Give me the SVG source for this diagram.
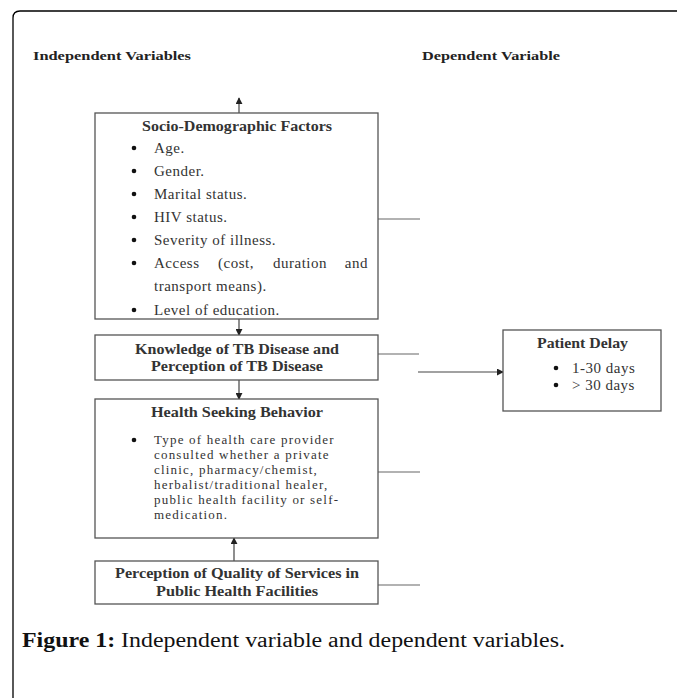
<svg xmlns="http://www.w3.org/2000/svg" width="677" height="698" viewBox="0 0 677 698">
<defs>
<marker id="ah" viewBox="0 0 8 8" refX="7" refY="4" markerWidth="7" markerHeight="7" markerUnits="userSpaceOnUse" orient="auto">
<path d="M0,0 L8,4 L0,8 z" fill="#222"/>
</marker>
<style>
.box{fill:#fff;stroke:#555;stroke-width:1.3}
.hd{font-family:"Liberation Serif",serif;font-weight:bold;font-size:13px;fill:#222}
.t{font-family:"Liberation Serif",serif;font-size:15px;letter-spacing:0.5px;fill:#333}
.th{font-family:"Liberation Serif",serif;font-size:13px;letter-spacing:1.2px;fill:#333}
.tb{font-family:"Liberation Serif",serif;font-weight:bold;font-size:15px;fill:#333}
.cap{font-family:"Liberation Serif",serif;font-size:20px;fill:#111}
.ln{stroke:#666;stroke-width:1.2;fill:none}
.ar{stroke:#444;stroke-width:1.2;fill:none;marker-end:url(#ah)}
.bul{fill:#111}
</style>
</defs>
<rect width="677" height="698" fill="#fff"/>
<path d="M13,710 L13,18 Q13,11 20,11 L690,11" fill="none" stroke="#000" stroke-width="1.3"/>
<text class="hd" x="33" y="60" textLength="158" lengthAdjust="spacingAndGlyphs">Independent Variables</text>
<text class="hd" x="422" y="60" textLength="138" lengthAdjust="spacingAndGlyphs">Dependent Variable</text>

<g id="connectors">
<line class="ar" x1="239" y1="113" x2="239" y2="98"/>
<line class="ar" x1="239" y1="319" x2="239" y2="335"/>
<line class="ar" x1="239" y1="380" x2="239" y2="399"/>
<line class="ar" x1="234" y1="561" x2="234" y2="538"/>
<line class="ln" x1="378" y1="219" x2="420" y2="219"/>
<line class="ln" x1="378" y1="354" x2="419" y2="354"/>
<line class="ln" x1="378" y1="472" x2="420" y2="472"/>
<line class="ln" x1="378" y1="585" x2="420" y2="585"/>
<line class="ar" x1="418" y1="372" x2="503" y2="372"/>
</g>

<g id="socio">
<rect class="box" x="95" y="113" width="283" height="206"/>
<text class="tb" x="142" y="131" textLength="190" lengthAdjust="spacingAndGlyphs">Socio-Demographic Factors</text>
<circle class="bul" cx="134" cy="148" r="2.3"/><text class="t" x="154" y="153">Age.</text>
<circle class="bul" cx="134" cy="171" r="2.3"/><text class="t" x="154" y="176">Gender.</text>
<circle class="bul" cx="134" cy="194" r="2.3"/><text class="t" x="154" y="199">Marital status.</text>
<circle class="bul" cx="134" cy="217" r="2.3"/><text class="t" x="154" y="222">HIV status.</text>
<circle class="bul" cx="134" cy="240" r="2.3"/><text class="t" x="154" y="245">Severity of illness.</text>
<circle class="bul" cx="134" cy="263" r="2.3"/><text class="t" x="154" y="268">Access</text><text class="t" x="218" y="268">(cost,</text><text class="t" x="273" y="268">duration</text><text class="t" x="368" y="268" text-anchor="end">and</text>
<text class="t" x="154" y="291">transport means).</text>
<circle class="bul" cx="134" cy="310" r="2.3"/><text class="t" x="154" y="315">Level of education.</text>
</g>

<g id="knowledge">
<rect class="box" x="95" y="335" width="283" height="45"/>
<text class="tb" x="135" y="354" textLength="204" lengthAdjust="spacingAndGlyphs">Knowledge of TB Disease and</text>
<text class="tb" x="151" y="371" textLength="172" lengthAdjust="spacingAndGlyphs">Perception of TB Disease</text>
</g>

<g id="health">
<rect class="box" x="95" y="399" width="283" height="139"/>
<text class="tb" x="151" y="417" textLength="172" lengthAdjust="spacingAndGlyphs">Health Seeking Behavior</text>
<circle class="bul" cx="134" cy="440" r="2.3"/>
<text class="th" x="154" y="444">Type of health care provider</text>
<text class="th" x="154" y="459">consulted whether a private</text>
<text class="th" x="154" y="474">clinic, pharmacy/chemist,</text>
<text class="th" x="154" y="489">herbalist/traditional healer,</text>
<text class="th" x="154" y="504">public health facility or self-</text>
<text class="th" x="154" y="519">medication.</text>
</g>

<g id="perception">
<rect class="box" x="95" y="561" width="283" height="43"/>
<text class="tb" x="115" y="578" textLength="244" lengthAdjust="spacingAndGlyphs">Perception of Quality of Services in</text>
<text class="tb" x="156" y="596" textLength="162" lengthAdjust="spacingAndGlyphs">Public Health Facilities</text>
</g>

<g id="delay">
<rect class="box" x="503" y="330" width="158" height="81"/>
<text class="tb" x="537" y="348" textLength="91" lengthAdjust="spacingAndGlyphs">Patient Delay</text>
<circle class="bul" cx="556" cy="368" r="2.3"/><text class="t" x="572" y="373">1-30 days</text>
<circle class="bul" cx="556" cy="385" r="2.3"/><text class="t" x="572" y="390">&gt; 30 days</text>
</g>

<text class="cap" x="22" y="647" textLength="543" lengthAdjust="spacingAndGlyphs"><tspan font-weight="bold">Figure 1:</tspan> Independent variable and dependent variables.</text>
</svg>
